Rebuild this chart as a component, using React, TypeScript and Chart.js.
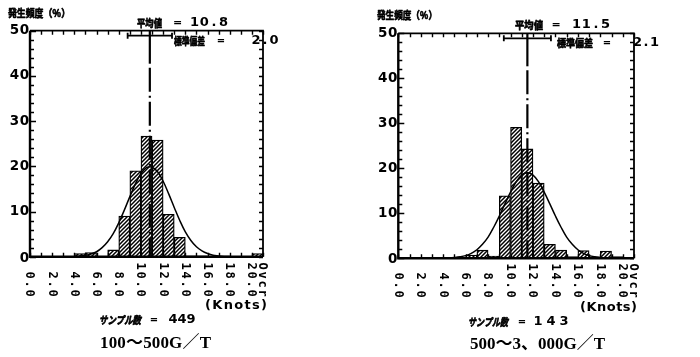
import React, { useEffect, useRef } from 'react';
import { Chart, registerables } from 'chart.js';

Chart.register(...registerables);

// ---------- data ----------
const binStarts = [0, 1, 2, 3, 4, 5, 6, 7, 8, 9, 10, 11, 12, 13, 14, 15, 16, 17, 18, 19, 20];
const freqSmall = [0, 0, 0, 0, 0.7, 0.9, 0, 1.5, 9.0, 19.0, 26.7, 25.8, 9.4, 4.3, 0.2, 0.2, 0, 0, 0, 0, 0.7];
const freqLarge = [0, 0, 0, 0, 0, 0, 0.7, 1.8, 0.5, 13.9, 29.1, 24.3, 16.7, 3.1, 1.8, 0.4, 1.7, 0.3, 1.6, 0.4, 0];

const curveX = [4, 4.5, 5, 5.5, 6, 6.5, 7, 7.5, 8, 8.5, 9, 9.5, 10, 10.5, 11, 11.5, 12, 12.5, 13, 13.5, 14, 14.5, 15, 15.5, 16, 16.5, 17, 17.5, 18];
const curveSmall = [0.06, 0.14, 0.3, 0.6, 1.1, 2.0, 3.3, 5.1, 7.5, 10.3, 13.3, 16.1, 18.4, 19.7, 19.8, 18.8, 16.7, 13.9, 10.9, 8.0, 5.5, 3.6, 2.2, 1.3, 0.7, 0.3, 0.16, 0.07, 0.03];
const curveLarge = [0.03, 0.07, 0.16, 0.32, 0.6, 1.1, 1.9, 3.1, 4.7, 6.9, 9.4, 12.1, 14.7, 17.0, 18.5, 19.0, 18.5, 17.0, 14.7, 12.1, 9.4, 6.9, 4.7, 3.1, 1.9, 1.1, 0.6, 0.32, 0.16];

const xTickValues = [0, 2, 4, 6, 8, 10, 12, 14, 16, 18, 20, 21];
const xTickLabels = ['0.0', '2.0', '4.0', '6.0', '8.0', '10.0', '12.0', '14.0', '16.0', '18.0', '20.0', 'Ovcr'];
const yTickValues = [0, 10, 20, 30, 40, 50];
const yTickLabels = ['0', '10', '20', '30', '40', '50'];

const meanValues = [10.8, 11.5];
const sdValues = [2.0, 2.1];
const meanTexts = ['10.8', '11.5'];
const sdTexts = ['2.0', '2.1'];
const sampleTexts = ['449', '143'];
const captionTexts = ['100～500G／T', '500～3、000G／T'];
const yTitleText = '発生頻度（％）';
const meanLabelText = '平均値';
const sdLabelText = '標準偏差';
const sampleLabelText = 'サンプル数';
const unitText = '(Knots)';

// ---------- layout (page coordinates) ----------
const panels = [
  {
    offset: 0, plot: { l: 30, r: 263, t: 30.7, b: 256.7 },
    freq: freqSmall, curve: curveSmall, idx: 0,
    yTitle: { x0: 8, x1: 70, y: 13 },
    mean: { x0: 137, x1: 162, y: 23, eq: 177.5, v0: 194.5, p: 9.7 },
    sd: { x0: 174, x1: 205, y: 41, eq: 221, v0: 256, p: 9 },
    n: { x0: 99, x1: 141, y: 320, eq: 154, v0: 173, p: 9 },
    unit: { x0: 205, x1: 267, y: 306 },
    cap: { x0: 100, x1: 211, y: 344 },
    labelEnd: 297,
  },
  {
    offset: 350, plot: { l: 398.3, r: 634, t: 33.3, b: 258.3 },
    freq: freqLarge, curve: curveLarge, idx: 1,
    yTitle: { x0: 377, x1: 437, y: 15 },
    mean: { x0: 515, x1: 543, y: 25, eq: 556, v0: 576.5, p: 9.7 },
    sd: { x0: 557, x1: 593, y: 43, eq: 607, v0: 637.5, p: 8.5 },
    n: { x0: 468, x1: 508, y: 322, eq: 522, v0: 538, p: 13 },
    unit: { x0: 580, x1: 637, y: 308 },
    cap: { x0: 470, x1: 605, y: 345 },
    labelEnd: 298,
  },
];

const CJK = '"Noto Sans CJK JP", "Noto Sans", sans-serif';
const BOLDSANS = '"DejaVu Sans", "Liberation Sans", sans-serif';
const MONO = '"DejaVu Sans Mono", "Liberation Mono", monospace';
const SERIF = '"Liberation Serif", "DejaVu Serif", "Noto Sans CJK JP", serif';

function spread(ctx: CanvasRenderingContext2D, text: string, x0: number, x1: number, y: number, font: string) {
  ctx.font = font;
  ctx.textAlign = 'left';
  ctx.textBaseline = 'middle';
  const chars = Array.from(text);
  const ws = chars.map((c) => ctx.measureText(c).width);
  const total = ws.reduce((a, b) => a + b, 0);
  const gap = chars.length > 1 ? (x1 - x0 - total) / (chars.length - 1) : 0;
  let x = x0;
  chars.forEach((c, i) => {
    ctx.fillText(c, x, y);
    x += ws[i] + gap;
  });
}

function fit(ctx: CanvasRenderingContext2D, text: string, x0: number, x1: number, y: number, font: string) {
  ctx.font = font;
  ctx.textAlign = 'left';
  ctx.textBaseline = 'middle';
  const w = ctx.measureText(text).width;
  ctx.save();
  ctx.translate(x0, y);
  ctx.scale((x1 - x0) / w, 1);
  ctx.lineWidth = 0.7;
  ctx.lineJoin = 'round';
  ctx.strokeText(text, 0, 0);
  ctx.fillText(text, 0, 0);
  ctx.restore();
}

function pitched(ctx: CanvasRenderingContext2D, text: string, cx0: number, y: number, pitch: number, font: string) {
  ctx.font = font;
  ctx.textAlign = 'center';
  ctx.textBaseline = 'middle';
  Array.from(text).forEach((c, i) => ctx.fillText(c, cx0 + i * pitch, y));
}

function makeDecor(panel: any) {
  return {
    id: 'decor' + panel.idx,
    afterDatasetsDraw(chart: any) {
      const { ctx, chartArea: a, scales } = chart;
      const xs = scales.x;
      const ys = scales.y;
      const o = panel.offset;
      ctx.save();
      ctx.fillStyle = '#000';
      ctx.strokeStyle = '#000';

      // ticks
      ctx.lineWidth = 1.4;
      ctx.beginPath();
      for (let v = 0; v <= 50; v += 2) {
        const py = Math.round(ys.getPixelForValue(v)) + 0.5;
        const len = v % 10 === 0 ? 6 : 4;
        ctx.moveTo(a.left, py); ctx.lineTo(a.left + len, py);
        ctx.moveTo(a.right, py); ctx.lineTo(a.right - 4, py);
      }
      for (let k = 0; k <= 21; k++) {
        const px = Math.round(xs.getPixelForValue(k)) + 0.5;
        ctx.moveTo(px, a.top); ctx.lineTo(px, a.top + 4);
        ctx.moveTo(px, a.bottom); ctx.lineTo(px, a.bottom - 4);
      }
      ctx.stroke();

      // frame
      ctx.lineWidth = 1.8;
      ctx.beginPath();
      ctx.moveTo(a.left, a.top); ctx.lineTo(a.right, a.top); ctx.lineTo(a.right, a.bottom);
      ctx.stroke();
      ctx.lineWidth = 2.4;
      ctx.beginPath();
      ctx.moveTo(a.left, a.top); ctx.lineTo(a.left, a.bottom); ctx.lineTo(a.right, a.bottom);
      ctx.stroke();

      // mean line (dash-dot)
      const mean = meanValues[panel.idx];
      const sd = sdValues[panel.idx];
      const mx = xs.getPixelForValue(mean);
      ctx.lineWidth = 2.2;
      ctx.beginPath();
      ctx.moveTo(mx, a.top); ctx.lineTo(mx, a.top + 33);
      ctx.stroke();
      ctx.setLineDash([24, 4, 2, 4]);
      ctx.beginPath();
      ctx.moveTo(mx, a.top + 37); ctx.lineTo(mx, a.bottom);
      ctx.stroke();
      ctx.setLineDash([]);

      // sd bar
      const sx0 = xs.getPixelForValue(mean - sd);
      const sx1 = xs.getPixelForValue(mean + sd);
      const sy = a.top + 5;
      ctx.lineWidth = 1.8;
      ctx.beginPath();
      ctx.moveTo(sx0, sy); ctx.lineTo(sx1, sy);
      ctx.moveTo(sx0, sy - 3); ctx.lineTo(sx0, sy + 3);
      ctx.moveTo(sx1, sy - 3); ctx.lineTo(sx1, sy + 3);
      ctx.stroke();

      // y tick labels
      yTickValues.forEach((v, i) => {
        const lab = yTickLabels[i];
        const n = lab.length;
        const py = ys.getPixelForValue(v) + (v === 0 ? 1.5 : 0);
        pitched(ctx, lab, a.left - 5.5 - (n - 1) * 10, py, 10, `bold 13.5px ${BOLDSANS}`);
      });

      // x tick labels rotated clockwise, right-aligned at labelEnd
      xTickValues.forEach((v, i) => {
        const lab = xTickLabels[i];
        const n = lab.length;
        const px = xs.getPixelForValue(v);
        ctx.save();
        ctx.translate(px, panel.labelEnd);
        ctx.rotate(Math.PI / 2);
        pitched(ctx, lab, -3.8 - (n - 1) * 9, 0.5, 9, `bold 12px ${MONO}`);
        ctx.restore();
      });

      // texts
      const t = panel;
      fit(ctx, yTitleText, t.yTitle.x0 - o, t.yTitle.x1 - o, t.yTitle.y, `bold 10.5px ${CJK}`);
      fit(ctx, meanLabelText, t.mean.x0 - o, t.mean.x1 - o, t.mean.y, `bold 10.5px ${CJK}`);
      pitched(ctx, '=', t.mean.eq - o, t.mean.y, 0, `bold 11px ${BOLDSANS}`);
      pitched(ctx, meanTexts[t.idx], t.mean.v0 - o, t.mean.y, t.mean.p, `bold 13px ${BOLDSANS}`);
      fit(ctx, sdLabelText, t.sd.x0 - o, t.sd.x1 - o, t.sd.y, `bold 10px ${CJK}`);
      pitched(ctx, '=', t.sd.eq - o, t.sd.y, 0, `bold 10px ${BOLDSANS}`);
      pitched(ctx, sdTexts[t.idx], t.sd.v0 - o, t.sd.y, t.sd.p, `bold 13px ${BOLDSANS}`);
      fit(ctx, sampleLabelText, t.n.x0 - o, t.n.x1 - o, t.n.y, `bold italic 10.5px ${CJK}`);
      pitched(ctx, '=', t.n.eq - o, t.n.y, 0, `bold 10px ${BOLDSANS}`);
      pitched(ctx, sampleTexts[t.idx], t.n.v0 - o, t.n.y, t.n.p, `bold 13px ${BOLDSANS}`);
      spread(ctx, unitText, t.unit.x0 - o, t.unit.x1 - o, t.unit.y, `bold 13px ${BOLDSANS}`);
      spread(ctx, captionTexts[t.idx], t.cap.x0 - o, t.cap.x1 - o, t.cap.y, `bold 17px ${SERIF}`);
      ctx.restore();
    },
  };
}

function makeHatch(): CanvasPattern | string {
  const pc = document.createElement('canvas');
  pc.width = 4;
  pc.height = 4;
  const p = pc.getContext('2d');
  if (!p) return '#888';
  p.fillStyle = '#fff';
  p.fillRect(0, 0, 4, 4);
  p.strokeStyle = '#000';
  p.lineWidth = 1.5;
  p.beginPath();
  p.moveTo(0, 4); p.lineTo(4, 0);
  p.moveTo(-1, 1); p.lineTo(1, -1);
  p.moveTo(3, 5); p.lineTo(5, 3);
  p.stroke();
  return p.createPattern(pc, 'repeat') || '#888';
}

function Panel({ panel }: { panel: any }) {
  const ref = useRef<HTMLCanvasElement | null>(null);
  useEffect(() => {
    if (!ref.current) return;
    const hatch = makeHatch();
    const pl = panel.plot;
    const chart = new Chart(ref.current, {
      type: 'bar',
      data: {
        datasets: [
          {
            type: 'line',
            data: curveX.map((x, i) => ({ x, y: panel.curve[i] })),
            borderColor: '#000',
            borderWidth: 1.5,
            pointRadius: 0,
            tension: 0.4,
            fill: false,
            order: 0,
          } as any,
          {
            type: 'bar',
            data: binStarts.map((b, i) => ({ x: b + 0.5, y: panel.freq[i] })),
            backgroundColor: hatch as any,
            borderColor: '#000',
            borderWidth: 1.3,
            barPercentage: 1,
            categoryPercentage: 1,
            order: 1,
          } as any,
        ],
      },
      options: {
        responsive: false,
        animation: false,
        events: [],
        layout: {
          padding: {
            left: pl.l - panel.offset,
            right: 350 - (pl.r - panel.offset),
            top: pl.t,
            bottom: 357 - pl.b,
          },
        },
        plugins: { legend: { display: false }, tooltip: { enabled: false } },
        scales: {
          x: { type: 'linear', min: 0, max: 21, offset: false, display: false },
          y: { type: 'linear', min: 0, max: 50, display: false },
        },
      },
      plugins: [makeDecor(panel)],
    });
    return () => chart.destroy();
  }, [panel]);
  return (
    <canvas
      ref={ref}
      width={350}
      height={357}
      style={{ position: 'absolute', left: panel.offset, top: 0, width: 350, height: 357 }}
    />
  );
}

export default function App() {
  return (
    <div style={{ position: 'absolute', left: 0, top: 0, width: 700, height: 357, background: '#fff', overflow: 'hidden' }}>
      {panels.map((p) => (
        <Panel key={p.idx} panel={p} />
      ))}
    </div>
  );
}
